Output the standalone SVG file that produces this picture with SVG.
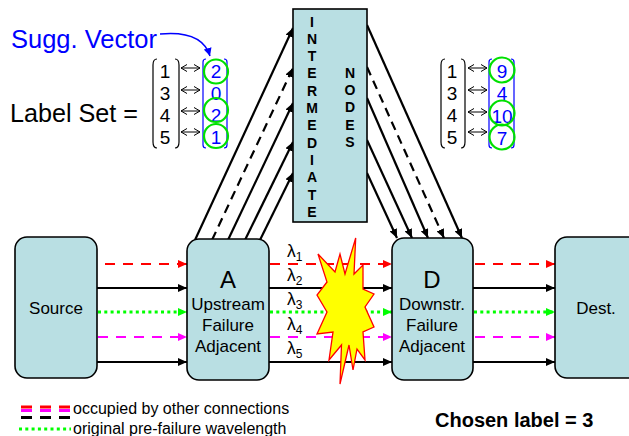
<svg xmlns="http://www.w3.org/2000/svg" width="629" height="436" viewBox="0 0 629 436">
<style>
.box{fill:#b9dfe3;stroke:#000;stroke-width:1.6}
.t{font-family:"Liberation Sans",Arial,sans-serif;fill:#000}
.tb{font-family:"Liberation Sans",Arial,sans-serif;fill:#000;font-weight:bold}
.blue{fill:#0000ff}
.ln{fill:none;stroke-width:2.2}
.k{stroke:#000;marker-end:url(#ak)}
.kd{stroke:#000;stroke-dasharray:9 6;marker-end:url(#ak)}
.r{stroke:#ff0000;stroke-dasharray:10 8;marker-end:url(#ar)}
.g{stroke:#00ff00;stroke-dasharray:3 3.3;stroke-width:3;marker-end:url(#ag)}
.m{stroke:#ff00ff;stroke-dasharray:10 8;marker-end:url(#am)}
.circ{fill:none;stroke:#00e000;stroke-width:2.2}
.br{fill:none;stroke:#000;stroke-width:1.2}
.bb{fill:none;stroke:#0000ff;stroke-width:1.2}
.da{fill:none;stroke:#000;stroke-width:1;marker-start:url(#oa);marker-end:url(#oa)}
</style>
<defs>
<marker id="ak" viewBox="0 0 9 8" refX="9" refY="4" markerWidth="9" markerHeight="8" markerUnits="userSpaceOnUse" orient="auto"><path d="M0,0L9,4L0,8z" fill="#000"/></marker>
<marker id="ar" viewBox="0 0 9 8" refX="9" refY="4" markerWidth="9" markerHeight="8" markerUnits="userSpaceOnUse" orient="auto"><path d="M0,0L9,4L0,8z" fill="#ff0000"/></marker>
<marker id="ag" viewBox="0 0 9 8" refX="9" refY="4" markerWidth="9" markerHeight="8" markerUnits="userSpaceOnUse" orient="auto"><path d="M0,0L9,4L0,8z" fill="#00ff00"/></marker>
<marker id="am" viewBox="0 0 9 8" refX="9" refY="4" markerWidth="9" markerHeight="8" markerUnits="userSpaceOnUse" orient="auto"><path d="M0,0L9,4L0,8z" fill="#ff00ff"/></marker>
<marker id="ab" viewBox="0 0 8 8" refX="8" refY="4" markerWidth="8" markerHeight="8" markerUnits="userSpaceOnUse" orient="auto"><path d="M0,0L8,4L0,8z" fill="#0000ff"/></marker>
<marker id="oa" viewBox="0 0 6 8" refX="6" refY="4" markerWidth="6" markerHeight="8" markerUnits="userSpaceOnUse" orient="auto-start-reverse"><path d="M0,0.5L6,4L0,7.5" fill="none" stroke="#000" stroke-width="1"/></marker>
</defs>

<g id="connectors">
<!-- Source to A -->
<line class="ln r" x1="105" y1="264" x2="187" y2="264"/>
<line class="ln k" x1="97" y1="288" x2="187" y2="288"/>
<line class="ln g" x1="98" y1="312" x2="187" y2="312"/>
<line class="ln m" x1="98" y1="337" x2="187" y2="337"/>
<line class="ln k" x1="97" y1="362" x2="187" y2="362"/>
<!-- A to D -->
<line class="ln r" x1="270" y1="264" x2="392" y2="264"/>
<line class="ln k" x1="269" y1="288" x2="392" y2="288"/>
<line class="ln g" x1="270" y1="312" x2="392" y2="312"/>
<line class="ln m" x1="270" y1="337" x2="392" y2="337"/>
<line class="ln k" x1="269" y1="362" x2="392" y2="362"/>
<!-- D to Dest -->
<line class="ln r" x1="475" y1="264" x2="555" y2="264"/>
<line class="ln k" x1="473" y1="288" x2="555" y2="288"/>
<line class="ln g" x1="474" y1="312" x2="555" y2="312"/>
<line class="ln m" x1="475" y1="337" x2="555" y2="337"/>
<line class="ln k" x1="473" y1="362" x2="555" y2="362"/>
<!-- A to Intermediate -->
<line class="ln k" x1="195" y1="240" x2="293" y2="28"/>
<line class="ln kd" x1="212" y1="240" x2="293" y2="68"/>
<line class="ln k" x1="228" y1="240" x2="293" y2="103"/>
<line class="ln k" x1="245" y1="240" x2="293" y2="142"/>
<line class="ln k" x1="260" y1="240" x2="293" y2="173"/>
<!-- Intermediate to D -->
<line class="ln k" x1="367" y1="25" x2="462" y2="238"/>
<line class="ln kd" x1="367" y1="67" x2="444" y2="238"/>
<line class="ln k" x1="367" y1="98" x2="428" y2="238"/>
<line class="ln k" x1="367" y1="140" x2="412" y2="238"/>
<line class="ln k" x1="367" y1="173" x2="397" y2="238"/>
<!-- Sugg. vector pointer -->
<path d="M160,34 Q202,30 210,56" fill="none" stroke="#0000ff" stroke-width="1.5" marker-end="url(#ab)"/>
</g>

<g id="lambdas" class="t" font-size="17.5">
<text x="287" y="257">λ<tspan font-size="12" dy="4">1</tspan></text>
<text x="287" y="281">λ<tspan font-size="12" dy="4">2</tspan></text>
<text x="287" y="305">λ<tspan font-size="12" dy="4">3</tspan></text>
<text x="287" y="330">λ<tspan font-size="12" dy="4">4</tspan></text>
<text x="287" y="354">λ<tspan font-size="12" dy="4">5</tspan></text>
</g>

<g id="failure">
<polygon points="355.7,238 354,274 363,265 363,289 374,294 365,307 374,327 363,332 365,360 357,349 353,370 349,345 340,384 341.5,345 329,360 333,332 317,334 327,312 317,295 327,282 318,254 335,272 340,254 345,274" fill="#ffff00" stroke="#ff0000" stroke-width="1.3" stroke-linejoin="miter"/>
</g>

<g id="source">
<rect class="box" x="15" y="237" width="82" height="141" rx="12"/>
<text class="t" x="56" y="314" font-size="17" text-anchor="middle">Source</text>
</g>

<g id="nodeA">
<rect class="box" x="187" y="239" width="82" height="141" rx="12"/>
<text class="t" x="228" y="288" font-size="24" text-anchor="middle">A</text>
<text class="t" x="228" y="310" font-size="17" text-anchor="middle">Upstream</text>
<text class="t" x="228" y="331" font-size="17" text-anchor="middle">Failure</text>
<text class="t" x="228" y="352" font-size="17" text-anchor="middle">Adjacent</text>
</g>

<g id="intermediate">
<rect class="box" x="293" y="9" width="74" height="213"/>
<text class="tb" font-size="14" text-anchor="middle">
<tspan x="312" y="26.5">I</tspan><tspan x="312" y="43.8">N</tspan><tspan x="312" y="61.1">T</tspan><tspan x="312" y="78.4">E</tspan><tspan x="312" y="95.7">R</tspan><tspan x="312" y="113">M</tspan><tspan x="312" y="130.3">E</tspan><tspan x="312" y="147.6">D</tspan><tspan x="312" y="164.9">I</tspan><tspan x="312" y="182.2">A</tspan><tspan x="312" y="199.5">T</tspan><tspan x="312" y="216.8">E</tspan>
</text>
<text class="tb" font-size="14" text-anchor="middle">
<tspan x="350" y="77.5">N</tspan><tspan x="350" y="94.9">O</tspan><tspan x="350" y="112.3">D</tspan><tspan x="350" y="129.7">E</tspan><tspan x="350" y="147.1">S</tspan>
</text>
</g>

<g id="nodeD">
<rect class="box" x="392" y="238" width="81" height="142" rx="12"/>
<text class="t" x="432" y="288" font-size="24" text-anchor="middle">D</text>
<text class="t" x="432" y="310" font-size="17" text-anchor="middle">Downstr.</text>
<text class="t" x="432" y="331" font-size="17" text-anchor="middle">Failure</text>
<text class="t" x="432" y="352" font-size="17" text-anchor="middle">Adjacent</text>
</g>

<g id="dest">
<rect class="box" x="555" y="237" width="90" height="141" rx="12"/>
<text class="t" x="596" y="314" font-size="17" text-anchor="middle">Dest.</text>
</g>

<g id="label-set-A">
<text class="t blue" x="11" y="48" font-size="25.5">Sugg. Vector</text>
<text class="t" x="10" y="122" font-size="26" textLength="128" lengthAdjust="spacingAndGlyphs">Label Set =</text>
<path class="br" d="M157,59 Q153,59 153,65 L153,142 Q153,148 157,148"/>
<path class="br" d="M175,59 Q179,59 179,65 L179,142 Q179,148 175,148"/>
<g class="t" font-size="19" text-anchor="middle">
<text x="165" y="78">1</text><text x="165" y="100">3</text><text x="165" y="122">4</text><text x="165" y="144">5</text>
</g>
<line class="da" x1="181" y1="68" x2="200" y2="68"/>
<line class="da" x1="181" y1="90" x2="200" y2="90"/>
<line class="da" x1="181" y1="111" x2="200" y2="111"/>
<line class="da" x1="181" y1="132" x2="200" y2="132"/>
<path class="bb" d="M206,59 Q203,59 203,62 L203,145 Q203,148 206,148"/>
<path class="bb" d="M224,59 Q227,59 227,62 L227,145 Q227,148 224,148"/>
<g class="t blue" font-size="19" text-anchor="middle">
<text x="216" y="78">2</text><text x="216" y="100">0</text><text x="216" y="122">2</text><text x="216" y="144">1</text>
</g>
<circle class="circ" cx="216" cy="71.5" r="12"/>
<circle class="circ" cx="216" cy="110" r="12"/>
<circle class="circ" cx="216" cy="136" r="12"/>
</g>

<g id="label-set-D">
<path class="br" d="M445,59 Q441,59 441,65 L441,142 Q441,148 445,148"/>
<path class="br" d="M461,59 Q465,59 465,65 L465,142 Q465,148 461,148"/>
<g class="t" font-size="19" text-anchor="middle">
<text x="452" y="78">1</text><text x="452" y="100">3</text><text x="452" y="122">4</text><text x="452" y="144">5</text>
</g>
<line class="da" x1="468" y1="68" x2="487" y2="68"/>
<line class="da" x1="468" y1="90" x2="487" y2="90"/>
<line class="da" x1="468" y1="112" x2="487" y2="112"/>
<line class="da" x1="468" y1="132" x2="487" y2="132"/>
<path class="bb" d="M492,59 Q489,59 489,62 L489,145 Q489,148 492,148"/>
<path class="bb" d="M511,59 Q514,59 514,62 L514,145 Q514,148 511,148"/>
<g class="t blue" font-size="19" text-anchor="middle">
<text x="502" y="78">9</text><text x="502" y="100">4</text><text x="502" y="123">10</text><text x="502" y="145">7</text>
</g>
<circle class="circ" cx="502" cy="70" r="12.5"/>
<circle class="circ" cx="502" cy="113" r="12.5"/>
<circle class="circ" cx="502" cy="137" r="12.5"/>
</g>

<g id="legend">
<line x1="21" y1="407" x2="71" y2="407" stroke="#ff0000" stroke-width="3" stroke-dasharray="11 8"/>
<line x1="21" y1="410.5" x2="71" y2="410.5" stroke="#ff00ff" stroke-width="3" stroke-dasharray="11 8"/>
<line x1="21" y1="417.5" x2="71" y2="417.5" stroke="#000" stroke-width="3" stroke-dasharray="11 8"/>
<text class="t" x="73" y="414" font-size="16">occupied by other connections</text>
<line x1="19" y1="429" x2="71" y2="429" stroke="#00ff00" stroke-width="3" stroke-dasharray="3 3.3"/>
<text class="t" x="73" y="434" font-size="16">original pre-failure wavelength</text>
<text class="tb" x="435" y="427" font-size="20">Chosen label = 3</text>
</g>
</svg>
